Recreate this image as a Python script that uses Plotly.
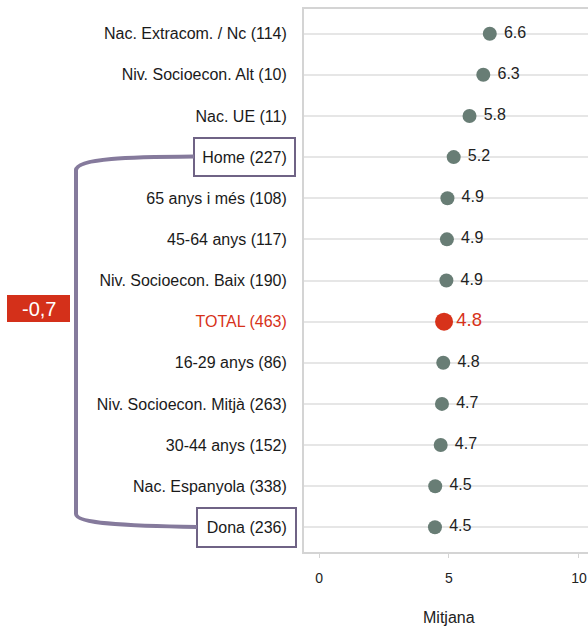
import plotly.graph_objects as go

# categories, top to bottom
labels = ["Nac. Extracom. / Nc (114)", "Niv. Socioecon. Alt (10)", "Nac. UE (11)",
          "Home (227)", "65 anys i més (108)", "45-64 anys (117)",
          "Niv. Socioecon. Baix (190)", "TOTAL (463)", "16-29 anys (86)",
          "Niv. Socioecon. Mitjà (263)", "30-44 anys (152)", "Nac. Espanyola (338)",
          "Dona (236)"]
means = [6.57, 6.32, 5.79, 5.18, 4.94, 4.92, 4.90, 4.81, 4.78, 4.73, 4.68, 4.47, 4.46]
total_label = "TOTAL (463)"
diff_text = "-0,7"

W, H = 588, 626
L, R, T, B = 304, 0, 9, 626 - 552
green = "#687d75"
red = "#d7321a"
purple = "#857a9c"

# page pixel -> paper coords
def px(x):
    return (x - L) / (W - L - R)

def py(y):
    return (H - B - y) / (H - T - B)

idx = list(range(len(labels)))
is_tot = [l == total_label for l in labels]

fig = go.Figure()
fig.add_trace(go.Scatter(
    x=[m for m, t in zip(means, is_tot) if not t],
    y=[i for i, t in zip(idx, is_tot) if not t],
    mode="markers+text",
    marker=dict(size=14, color=green),
    texttemplate="&nbsp;%{x:.1f}", textposition="middle right",
    textfont=dict(size=16, color="#222222"),
    cliponaxis=False, hoverinfo="skip"))
fig.add_trace(go.Scatter(
    x=[m for m, t in zip(means, is_tot) if t],
    y=[i for i, t in zip(idx, is_tot) if t],
    mode="markers+text",
    marker=dict(size=18, color=red),
    texttemplate="%{x:.1f}", textposition="middle right",
    textfont=dict(size=18.5, color=red),
    cliponaxis=False, hoverinfo="skip"))

ticktext = [f"<span style='color:{red}'>{l}</span>" if t else l for l, t in zip(labels, is_tot)]

shapes = []
# boxes around Home and Dona
shapes.append(dict(type="rect", xref="paper", yref="paper", x0=px(194), x1=px(295),
                   y0=py(138), y1=py(176), line=dict(color="#6f6385", width=2)))
shapes.append(dict(type="rect", xref="paper", yref="paper", x0=px(197), x1=px(296),
                   y0=py(508), y1=py(547), line=dict(color="#6f6385", width=2)))
# bracket
pts = [("M", 194, 156.5), ("C", 130, 157, 77, 158), ("", 76, 170), ("L", 76, 514),
       ("C", 76, 524, 130, 526), ("", 197, 527)]
path = ""
for p in pts:
    cmd = p[0]
    coords = p[1:]
    s = " ".join(f"{px(coords[k]):.4f},{py(coords[k+1]):.4f}" for k in range(0, len(coords), 2))
    path += f"{cmd} {s} "
shapes.append(dict(type="path", xref="paper", yref="paper", path=path.strip(),
                   line=dict(color=purple, width=4)))
# red badge
shapes.append(dict(type="rect", xref="paper", yref="paper", x0=px(7), x1=px(70),
                   y0=py(295), y1=py(322), fillcolor="#d4301a", line=dict(width=0)))

annotations = [
    dict(text=diff_text, xref="paper", yref="paper", x=px(38.5), y=py(308.5),
         showarrow=False, font=dict(size=20, color="white"), xanchor="center", yanchor="middle"),
    dict(text="Mitjana", xref="paper", yref="paper", x=px(448.5), y=py(617),
         showarrow=False, font=dict(size=16, color="#222222"), xanchor="center", yanchor="middle"),
]

fig.update_layout(
    width=W, height=H,
    margin=dict(l=L, r=R, t=T, b=B, autoexpand=False),
    paper_bgcolor="white", plot_bgcolor="white",
    font=dict(family="Liberation Sans, Arial, sans-serif", size=16, color="#1a1a1a"),
    showlegend=False,
    shapes=shapes, annotations=annotations,
    xaxis=dict(range=[-0.58, 10.35], tickvals=[0, 5, 10], showgrid=False, zeroline=False,
               showline=True, linecolor="#d4d4d4", linewidth=2, mirror=True,
               ticks="outside", ticklen=4, tickcolor="#d4d4d4", automargin=False,
               tickfont=dict(size=14, color="#222222"), ticklabelstandoff=8),
    yaxis=dict(range=[12.6, -0.6], tickvals=idx, ticktext=ticktext, showgrid=True,
               gridcolor="#e6e6e6", gridwidth=2, zeroline=False, automargin=False,
               showline=True, linecolor="#d4d4d4", linewidth=2,
               ticks="", ticklabelstandoff=12, tickfont=dict(size=16)),
)

# drop the default body margin so the figure fills the window exactly
fig.write_html("out.html", config={"displayModeBar": False},
               post_script="document.body.style.margin='0';")
